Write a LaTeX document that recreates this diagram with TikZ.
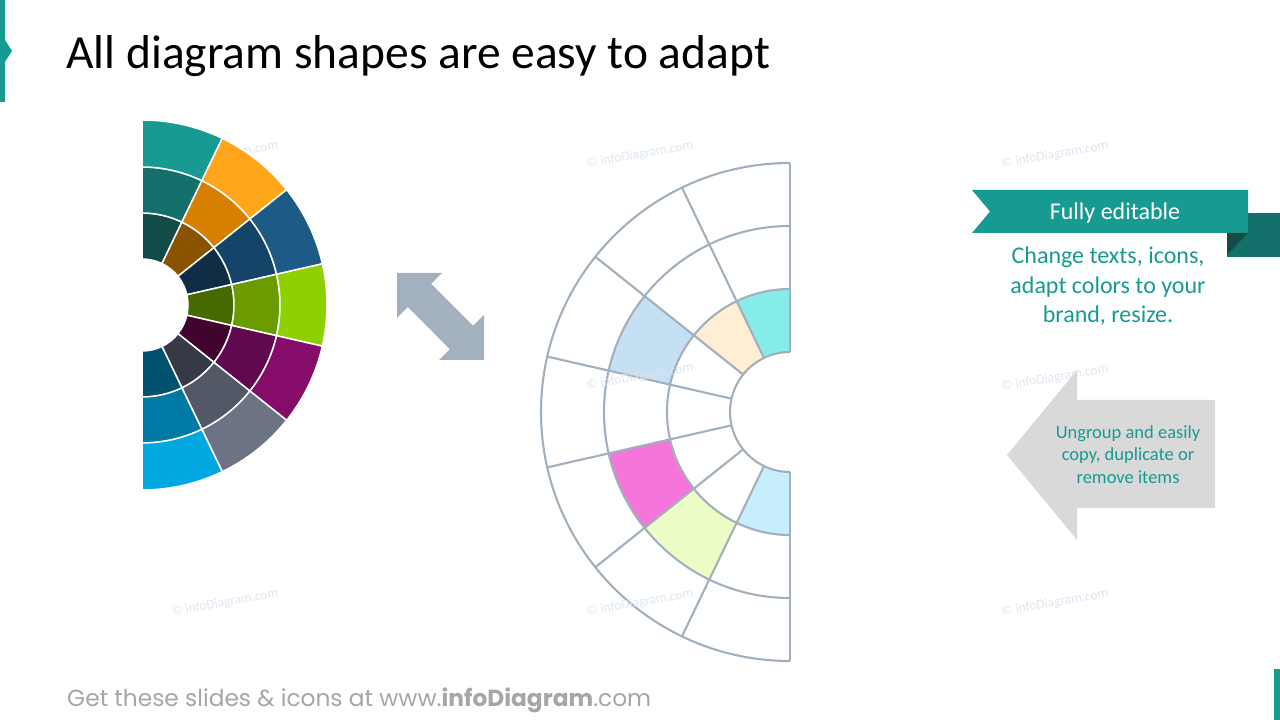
\documentclass[tikz,border=0pt]{standalone}
\usepackage{fontspec}
\setmainfont{Carlito}
\newfontfamily\footfont{Poppins}
\usetikzlibrary{calc}

\definecolor{brandteal}{HTML}{169A92}
\definecolor{tealB}{HTML}{13706A}
\definecolor{tealC}{HTML}{114C48}
\definecolor{orangeA}{HTML}{FFA61B}
\definecolor{orangeB}{HTML}{D58000}
\definecolor{orangeC}{HTML}{8A5300}
\definecolor{blueA}{HTML}{1D5A85}
\definecolor{blueB}{HTML}{154469}
\definecolor{blueC}{HTML}{0F2D45}
\definecolor{greenA}{HTML}{8ED000}
\definecolor{greenB}{HTML}{6A9C00}
\definecolor{greenC}{HTML}{466900}
\definecolor{plumA}{HTML}{850C69}
\definecolor{plumB}{HTML}{62084F}
\definecolor{plumC}{HTML}{41042F}
\definecolor{slateA}{HTML}{6B7385}
\definecolor{slateB}{HTML}{525866}
\definecolor{slateC}{HTML}{363A45}
\definecolor{skyA}{HTML}{00A7E1}
\definecolor{skyB}{HTML}{0079A5}
\definecolor{skyC}{HTML}{005270}
\definecolor{gridgray}{HTML}{A2AFBC}
\definecolor{fillcyan}{HTML}{86ECEA}
\definecolor{fillpeach}{HTML}{FFEDD4}
\definecolor{fillblue}{HTML}{C4E0F2}
\definecolor{fillpink}{HTML}{F575DA}
\definecolor{filllime}{HTML}{EBFCC5}
\definecolor{fillsky}{HTML}{C6EEFC}
\definecolor{arrowgray}{HTML}{A3B0BD}
\definecolor{boxgray}{HTML}{D9D9D9}
\definecolor{markblue}{HTML}{DDE6F1}
\definecolor{footgray}{HTML}{A6A6A6}

\tikzset{
  cell/.style={draw=white, line width=1.5pt},
  grid/.style={draw=gridgray, line width=2.1pt},
  wmark/.style={text=markblue, font=\fontsize{13.5}{16}\selectfont, rotate=10},
}

\begin{document}
\begin{tikzpicture}[x=1pt,y=1pt]
  \useasboundingbox (0,0) rectangle (1280,720);
  \def\seg{25.7143}
  % corner marks
  \fill[brandteal] (0,618) rectangle (5,720);
  \fill[brandteal] (5,658) -- (12,669) -- (5,680) -- cycle;
  \fill[brandteal] (1274,0) rectangle (1280,51);
  \node[anchor=base west, inner sep=0, font=\fontsize{47.5}{52}\selectfont] (title) at (66,651) {All diagram shapes are easy to adapt};

  % outline wheel
  \coordinate (rc) at (790,308);
  \foreach \k/\ra/\rb/\col in {0/60/123/fillcyan, 1/60/123/fillpeach, 2/123/186/fillblue, 4/123/186/fillpink, 5/123/186/filllime, 6/60/123/fillsky}
    \fill[\col] ($(rc)+({90+\k*\seg}:\ra)$) arc[start angle={90+\k*\seg}, delta angle=\seg, radius=\ra]
      -- ($(rc)+({90+(\k+1)*\seg}:\rb)$) arc[start angle={90+(\k+1)*\seg}, delta angle=-\seg, radius=\rb] -- cycle;
  \foreach \r in {60,123,186,249}
    \draw[grid] ($(rc)+(90:\r)$) arc[start angle=90, end angle=270, radius=\r];
  \foreach \k in {0,...,7}
    \draw[grid] ($(rc)+({90+\k*\seg}:60)$) -- ($(rc)+({90+\k*\seg}:249)$);

  % watermarks
  \foreach \x/\y [count=\n] in {640/565, 1055/565, 225/565, 640/343, 1055/342, 225/117, 640/117, 1055/117}
    \node[wmark] (wm\n) at (\x,\y) {© infoDiagram.com};

  % colour wheel
  \coordinate (lc) at (142,415);
  \foreach \k/\ca/\cb/\cc in {0/brandteal/tealB/tealC, 1/orangeA/orangeB/orangeC, 2/blueA/blueB/blueC,
      3/greenA/greenB/greenC, 4/plumA/plumB/plumC, 5/slateA/slateB/slateC, 6/skyA/skyB/skyC} {
    \filldraw[cell, fill=\cc] ($(lc)+({90-\k*\seg}:46)$) arc[start angle={90-\k*\seg}, delta angle=-\seg, radius=46]
      -- ($(lc)+({90-(\k+1)*\seg}:92)$) arc[start angle={90-(\k+1)*\seg}, delta angle=\seg, radius=92] -- cycle;
    \filldraw[cell, fill=\cb] ($(lc)+({90-\k*\seg}:92)$) arc[start angle={90-\k*\seg}, delta angle=-\seg, radius=92]
      -- ($(lc)+({90-(\k+1)*\seg}:138)$) arc[start angle={90-(\k+1)*\seg}, delta angle=\seg, radius=138] -- cycle;
    \filldraw[cell, fill=\ca] ($(lc)+({90-\k*\seg}:138)$) arc[start angle={90-\k*\seg}, delta angle=-\seg, radius=138]
      -- ($(lc)+({90-(\k+1)*\seg}:185)$) arc[start angle={90-(\k+1)*\seg}, delta angle=\seg, radius=185] -- cycle;
  }

  % double arrow
  \fill[arrowgray] (397,447) -- (442,447) -- (431.2,436.2) -- (473.2,394.2) -- (484,405) -- (484,360)
    -- (439,360) -- (449.9,370.8) -- (407.9,412.9) -- (397,402) -- cycle;

  % ribbon
  \fill[tealB] (1227,463) rectangle (1280,507);
  \fill[brandteal] (972,530) -- (1248,530) -- (1248,487) -- (972,487) -- (990,508.5) -- cycle;
  \fill[tealC] (1227,487) -- (1248,487) -- (1227,465) -- cycle;
  \node[text=white, font=\fontsize{24}{28}\selectfont] (ribbon) at (1115,506.5) {Fully editable};
  \node[text=brandteal, align=center, font=\fontsize{24}{29.5}\selectfont] (change) at (1108,433.5) {Change texts, icons,\\adapt colors to your\\brand, resize.};

  % left arrow
  \fill[boxgray] (1007,265) -- (1077,350) -- (1077,320) -- (1215,320) -- (1215,212) -- (1077,212) -- (1077,180) -- cycle;
  \node[text=brandteal, align=center, font=\fontsize{18.5}{22.5}\selectfont] (ungroup) at (1128,265.5) {Ungroup and easily\\copy, duplicate or\\remove items};

  \node[anchor=base west, inner sep=0, text=footgray, font=\footfont\fontsize{23.3}{26}\selectfont] (footer) at (67,13)
    {Get these slides \& icons at www.\textbf{infoDiagram}.com};
\end{tikzpicture}
\end{document}
